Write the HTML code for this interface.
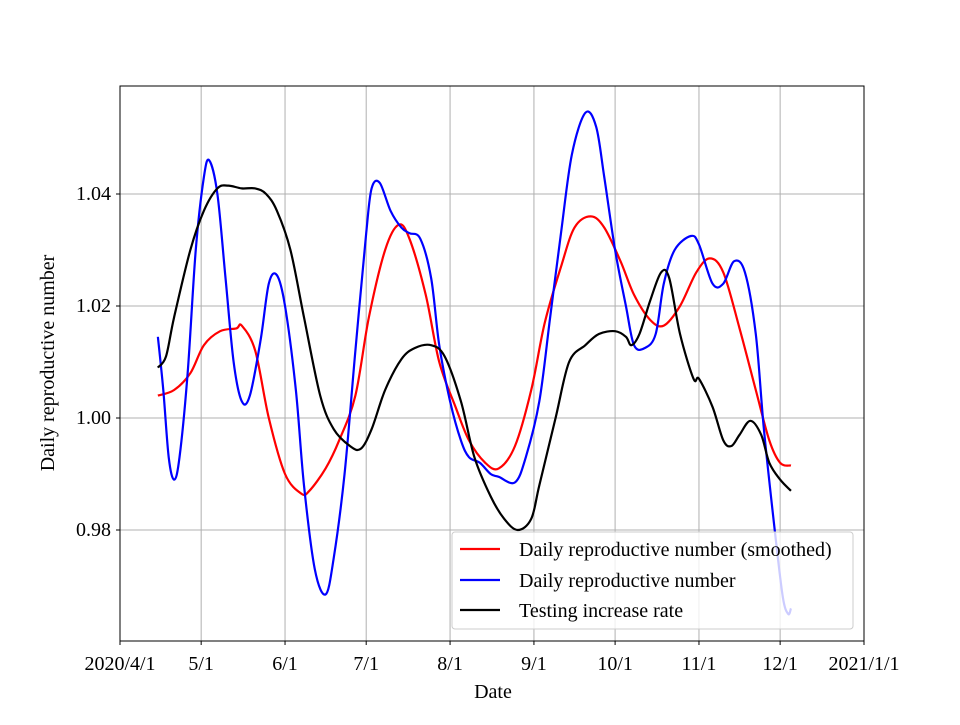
<!DOCTYPE html>
<html><head><meta charset="utf-8"><style>
body{margin:0;background:#fff}
svg text{font-family:"Liberation Serif","DejaVu Serif",serif;font-size:20px;fill:#000}
</style></head><body>
<svg id="chart" width="960" height="720" xmlns="http://www.w3.org/2000/svg">
<rect width="960" height="720" fill="#fff"/>
<g id="grid"></g>
<g id="series"></g>
<rect x="120" y="86" width="744" height="555" fill="none" stroke="#000" stroke-width="1"/>
<g id="ticks"></g>
<text x="493" y="698" text-anchor="middle">Date</text>
<text transform="translate(54,363) rotate(-90)" text-anchor="middle">Daily reproductive number</text>
<g>
<rect x="452" y="532" width="401" height="97" rx="3" fill="#fff" fill-opacity="0.8" stroke="#ccc" stroke-width="1"/>
<line x1="460" y1="549" x2="500" y2="549" stroke="#f00" stroke-width="2.2"/>
<text x="519" y="556">Daily reproductive number (smoothed)</text>
<line x1="460" y1="580" x2="500" y2="580" stroke="#00f" stroke-width="2.2"/>
<text x="519" y="587">Daily reproductive number</text>
<line x1="460" y1="610" x2="500" y2="610" stroke="#000" stroke-width="2.2"/>
<text x="519" y="617">Testing increase rate</text>
</g>
</svg>
<script>
// days since 2020/4/1
const xTickDays=[0,30,61,91,122,153,183,214,244,275];
const xTickLabels=["2020/4/1","5/1","6/1","7/1","8/1","9/1","10/1","11/1","12/1","2021/1/1"];
const yTickValues=[0.98,1.00,1.02,1.04];
const yTickLabels=["0.98","1.00","1.02","1.04"];
const redDays=[14,20,26,31,37,43,45,50,55,61,67,70,76,81,87,92,98,103,107,113,118,124,129,135,140,146,152,157,163,168,174,179,185,190,196,201,207,213,218,223,229,235,240,244,248];
const redVals=[1.004,1.005,1.008,1.013,1.0155,1.016,1.0165,1.012,1.000,0.990,0.9865,0.987,0.991,0.996,1.004,1.018,1.030,1.0345,1.032,1.022,1.010,1.002,0.996,0.992,0.991,0.995,1.005,1.017,1.027,1.034,1.036,1.034,1.028,1.022,1.0175,1.0165,1.020,1.026,1.0285,1.026,1.016,1.005,0.996,0.992,0.9915];
const blueDays=[14,16,18,20,22,25,28,31,33,36,39,42,45,48,52,55,58,61,65,68,72,76,79,83,87,91,93,96,100,104,107,111,115,118,122,126,129,133,137,140,146,150,155,159,163,167,172,176,179,183,187,190,194,198,201,205,211,214,219,223,227,231,235,238,242,245,247,248];
const blueVals=[1.0145,1.005,0.993,0.989,0.993,1.008,1.030,1.043,1.046,1.040,1.025,1.010,1.003,1.004,1.014,1.024,1.0255,1.020,1.005,0.988,0.973,0.9685,0.975,0.990,1.012,1.033,1.041,1.042,1.037,1.034,1.033,1.032,1.025,1.013,1.003,0.996,0.993,0.992,0.990,0.9895,0.9885,0.993,1.003,1.018,1.033,1.047,1.0545,1.052,1.043,1.030,1.020,1.013,1.0125,1.015,1.024,1.030,1.0325,1.031,1.024,1.024,1.028,1.026,1.015,0.998,0.980,0.968,0.965,0.966];
const blackDays=[14,17,20,26,31,36,40,45,50,54,58,63,68,74,79,85,89,93,98,104,109,115,120,126,131,137,142,147,152,155,161,166,172,177,183,187,189,192,196,200,203,207,212,214,219,223,226,229,233,237,240,244,248];
const blackVals=[1.009,1.011,1.018,1.030,1.037,1.041,1.0415,1.041,1.041,1.040,1.037,1.030,1.018,1.004,0.998,0.995,0.9945,0.998,1.005,1.0105,1.0125,1.013,1.011,1.003,0.993,0.986,0.982,0.980,0.982,0.988,1.000,1.010,1.013,1.015,1.0155,1.0145,1.013,1.015,1.021,1.026,1.025,1.015,1.007,1.007,1.002,0.996,0.995,0.997,0.9995,0.997,0.992,0.989,0.987];

const X0=120,X1=864,Y0=86,Y1=641;
const xs=d=>X0+(d/275)*(X1-X0);
const ys=v=>418-(v-1)*5600;
const NS="http://www.w3.org/2000/svg";
function mk(tag,attrs,parent){const e=document.createElementNS(NS,tag);for(const k in attrs)e.setAttribute(k,attrs[k]);parent.appendChild(e);return e;}
const grid=document.getElementById('grid'),ticks=document.getElementById('ticks'),series=document.getElementById('series');
xTickDays.forEach((d,i)=>{
  const x=xs(d);
  const g=mk('line',{x1:x,x2:x,y1:Y0,y2:Y1,stroke:'#b0b0b0','stroke-width':1},grid);
  
  
  const t=mk('line',{x1:x,x2:x,y1:Y1,y2:Y1+4,stroke:'#000'},ticks);
  
  
  const l=mk('text',{x:x,y:Y1+29,'text-anchor':'middle'},ticks);l.textContent=xTickLabels[i];
  
  
});
yTickValues.forEach((v,i)=>{
  const y=ys(v);
  const g=mk('line',{x1:X0,x2:X1,y1:y,y2:y,stroke:'#b0b0b0','stroke-width':1},grid);
  
  
  const t=mk('line',{x1:X0-4,x2:X0,y1:y,y2:y,stroke:'#000'},ticks);
  
  
  const l=mk('text',{x:X0-9,y:y+6,'text-anchor':'end'},ticks);l.textContent=yTickLabels[i];
  
  
});
function pathFor(days,vals){
  const p=days.map((d,i)=>[xs(d),ys(vals[i])]);
  let s='M'+p[0][0]+','+p[0][1];
  for(let i=0;i<p.length-1;i++){
    const a=p[i-1]||p[i],b=p[i],c=p[i+1],e=p[i+2]||c;
    s+=' C'+(b[0]+(c[0]-a[0])/6)+','+(b[1]+(c[1]-a[1])/6)+' '+(c[0]-(e[0]-b[0])/6)+','+(c[1]-(e[1]-b[1])/6)+' '+c[0]+','+c[1];
  }
  return s;
}
const r=mk('path',{d:pathFor(redDays,redVals),fill:'none',stroke:'#f00','stroke-width':2.2},series);


const b=mk('path',{d:pathFor(blueDays,blueVals),fill:'none',stroke:'#00f','stroke-width':2.2},series);


const k=mk('path',{d:pathFor(blackDays,blackVals),fill:'none',stroke:'#000','stroke-width':2.2},series);


</script>
</body></html>
